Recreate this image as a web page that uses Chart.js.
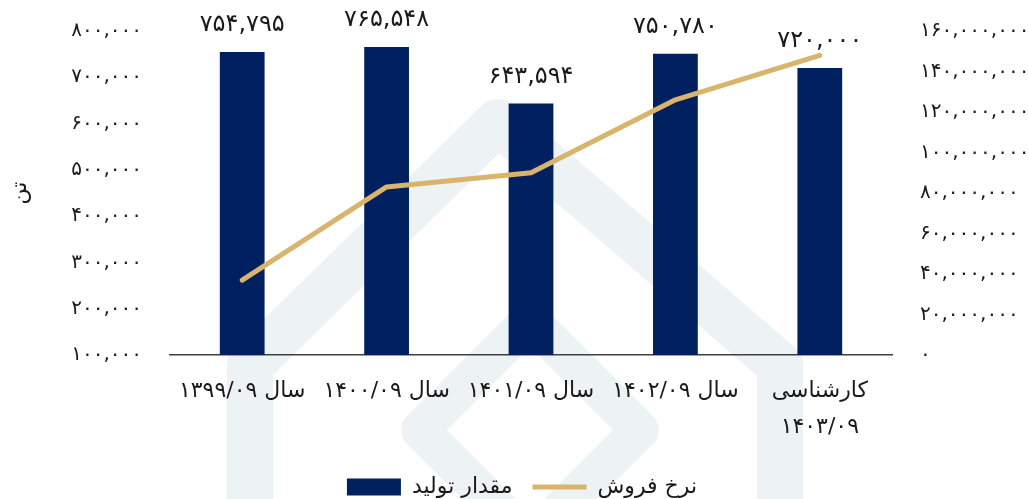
<!DOCTYPE html>
<html lang="fa">
<head>
<meta charset="utf-8">
<title>مقدار تولید و نرخ فروش</title>
<script src="https://cdn.jsdelivr.net/npm/chart.js@4.4.1/dist/chart.umd.min.js"></script>
<style>
  html, body { margin: 0; padding: 0; background: #fff; }
  #wrap { position: relative; width: 1028px; height: 499px; }
</style>
</head>
<body>
<div id="wrap"><canvas id="c" width="1028" height="499"></canvas></div>
<script>
/* Production (tons, bars, left axis) vs. sales price (line, right axis). */
const LABELS = ["سال ۱۳۹۹/۰۹", "سال ۱۴۰۰/۰۹", "سال ۱۴۰۱/۰۹", "سال ۱۴۰۲/۰۹", ["کارشناسی", "۱۴۰۳/۰۹"]];
const PRODUCTION = [754795, 765548, 643594, 750780, 720000];
const PRICE = [37000000, 83000000, 90000000, 126000000, 148000000];
const LEFT_TICKS = ["۱۰۰,۰۰۰", "۲۰۰,۰۰۰", "۳۰۰,۰۰۰", "۴۰۰,۰۰۰", "۵۰۰,۰۰۰", "۶۰۰,۰۰۰", "۷۰۰,۰۰۰", "۸۰۰,۰۰۰"];
const RIGHT_TICKS = ["۰", "۲۰,۰۰۰,۰۰۰", "۴۰,۰۰۰,۰۰۰", "۶۰,۰۰۰,۰۰۰", "۸۰,۰۰۰,۰۰۰",
  "۱۰۰,۰۰۰,۰۰۰", "۱۲۰,۰۰۰,۰۰۰", "۱۴۰,۰۰۰,۰۰۰", "۱۶۰,۰۰۰,۰۰۰"];

const NAVY = "#002060", GOLD = "#D9B46C", INK = "#1a1a1a";
const FONT = "'DejaVu Sans', sans-serif";
const PLOT_BOTTOM = 355, PAD_BOTTOM = -9, PAD_RIGHT = -16;
const faNum = n => n.toLocaleString("en-US").replace(/\d/g, d => "۰۱۲۳۴۵۶۷۸۹"[d]);

// faint logo watermark behind the plot
const watermark = {
  id: "watermark",
  beforeDraw(chart) {
    const ctx = chart.ctx;
    ctx.save();
    ctx.strokeStyle = "#edf2f5";
    ctx.lineJoin = "round";
    ctx.lineWidth = 46;
    ctx.beginPath();
    ctx.moveTo(250, 520); ctx.lineTo(250, 365); ctx.lineTo(498, 122); ctx.lineTo(780, 365); ctx.lineTo(780, 520);
    ctx.stroke();
    ctx.lineWidth = 38;
    ctx.beginPath();
    ctx.moveTo(420, 430); ctx.lineTo(530, 320); ctx.lineTo(640, 430); ctx.lineTo(530, 540); ctx.closePath();
    ctx.stroke();
    ctx.restore();
  },
};

// value labels above the bars
const barValues = {
  id: "barValues",
  afterDatasetsDraw(chart) {
    const idx = chart.data.datasets.findIndex(d => d.type === "bar");
    const meta = chart.getDatasetMeta(idx);
    const ctx = chart.ctx;
    ctx.save();
    ctx.font = "24px " + FONT;
    ctx.fillStyle = INK;
    ctx.textAlign = "center";
    ctx.textBaseline = "middle";
    meta.data.forEach((el, i) => ctx.fillText(faNum(PRODUCTION[i]), el.x, el.y - 27));
    ctx.restore();
  },
};

// vertical axes: fixed width, no extra top/bottom padding from tick padding
const fixY = w => s => { s.width = w; s.paddingTop = 0; s.paddingBottom = 0; };

new Chart(document.getElementById("c"), {
  data: {
    labels: LABELS,
    datasets: [
      { type: "line", label: "نرخ فروش", data: PRICE, yAxisID: "yR",
        borderColor: GOLD, backgroundColor: GOLD, borderWidth: 5, pointRadius: 0,
        pointStyle: "line", borderCapStyle: "round", borderJoinStyle: "round", tension: 0 },
      { type: "bar", label: "مقدار تولید", data: PRODUCTION, yAxisID: "y",
        backgroundColor: NAVY, borderColor: NAVY, borderWidth: 0, pointStyle: "rect",
        barPercentage: 0.31, categoryPercentage: 1 },
    ],
  },
  options: {
    responsive: false, animation: false, devicePixelRatio: 1,
    layout: { padding: { top: 31, left: 0, right: PAD_RIGHT, bottom: PAD_BOTTOM } },
    plugins: {
      legend: {
        position: "bottom",
        labels: {
          usePointStyle: true, pointStyleWidth: 54, boxHeight: 17, padding: 20,
          color: INK, font: { family: FONT, size: 22 },
          sort: (a, b) => b.datasetIndex - a.datasetIndex,
        },
      },
      tooltip: { enabled: true },
    },
    scales: {
      x: {
        grid: { display: false, drawTicks: false },
        border: { display: true, color: "#404040", width: 1.5 },
        ticks: { color: INK, padding: 18, maxRotation: 0, autoSkip: false,
                 font: { family: FONT, size: 22, lineHeight: 1.65 } },
        afterFit(s) {
          const lg = s.chart.legend ? s.chart.legend.height : 0;
          s.height = s.chart.height - PAD_BOTTOM - PLOT_BOTTOM - lg;
        },
      },
      y: {
        position: "left", min: 100000, max: 800000,
        grid: { display: false, drawTicks: false },
        border: { display: false },
        ticks: { stepSize: 100000, padding: 28, color: INK, font: { family: FONT, size: 20 },
                 callback: v => LEFT_TICKS[Math.round((v - 100000) / 100000)] },
        title: { display: true, text: "تن", color: INK, padding: { top: 7, bottom: 0 },
                 font: { family: FONT, size: 22 } },
        afterFit: fixY(170),
      },
      yR: {
        position: "right", min: 0, max: 160000000,
        grid: { display: false, drawTicks: false },
        border: { display: false },
        ticks: { stepSize: 20000000, padding: 28, color: INK, font: { family: FONT, size: 20 },
                 callback: v => RIGHT_TICKS[Math.round(v / 20000000)] },
        afterFit: fixY(136 - PAD_RIGHT),
      },
    },
  },
  plugins: [watermark, barValues],
});
</script>
</body>
</html>
